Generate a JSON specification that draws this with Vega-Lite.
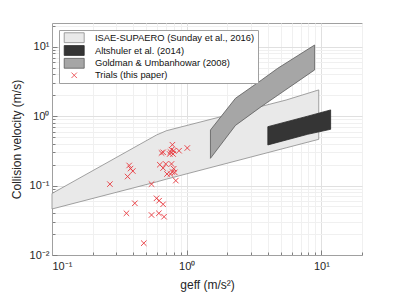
{
  "$schema": "https://vega.github.io/schema/vega-lite/v6.json",
  "width": 310,
  "height": 232,
  "autosize": "none",
  "padding": {"left": 52, "top": 23, "right": 37, "bottom": 44},
  "config": {
    "font": "Liberation Sans",
    "view": {"stroke": "#a0a0a0", "strokeWidth": 1},
    "axis": {
      "labelFont": "Liberation Sans",
      "labelFontSize": 11,
      "labelColor": "#262626",
      "titleFont": "Liberation Sans",
      "titleFontSize": 12,
      "titleFontWeight": "normal",
      "titleColor": "#262626",
      "domainColor": "#a0a0a0",
      "tickColor": "#808080",
      "grid": true,
      "gridColor": {"condition": {"test": "indexof([0.01,0.1,1,10], datum.value) >= 0", "value": "#e0e0e0"}, "value": "#f0f0f0"},
      "tickSize": {"condition": {"test": "indexof([0.01,0.1,1,10], datum.value) >= 0", "value": -5}, "value": -3}
    },
    "legend": {
      "orient": "top-left",
      "offset": 7,
      "title": null,
      "labelFont": "Liberation Sans",
      "labelFontSize": 9.4,
      "labelColor": "#111111",
      "labelLimit": 400,
      "strokeColor": "#a0a0a0",
      "fillColor": "#ffffff",
      "padding": 3,
      "symbolSize": 30,
      "symbolStrokeWidth": 0.8,
      "symbolOffset": 7.5,
      "labelOffset": 16,
      "rowPadding": -1.2
    }
  },
  "datasets": {
    "isae": [
      {"series": "ISAE-SUPAERO (Sunday et al., 2016)", "x": 0.1, "lo": 0.046, "hi": 0.077},
      {"series": "ISAE-SUPAERO (Sunday et al., 2016)", "x": 0.597, "lo": 0.113, "hi": 0.536},
      {"series": "ISAE-SUPAERO (Sunday et al., 2016)", "x": 0.708, "lo": 0.124, "hi": 0.618},
      {"series": "ISAE-SUPAERO (Sunday et al., 2016)", "x": 5.47, "lo": 0.35, "hi": 1.71},
      {"series": "ISAE-SUPAERO (Sunday et al., 2016)", "x": 9.55, "lo": 0.464, "hi": 2.39}
    ],
    "goldman": [
      {"series": "Goldman & Umbanhowar (2008)", "x": 1.5, "lo": 0.247, "hi": 0.632},
      {"series": "Goldman & Umbanhowar (2008)", "x": 2.3, "lo": 0.736, "hi": 1.81},
      {"series": "Goldman & Umbanhowar (2008)", "x": 3.57, "lo": 1.37, "hi": 3.29},
      {"series": "Goldman & Umbanhowar (2008)", "x": 4.74, "lo": 2.0, "hi": 4.9},
      {"series": "Goldman & Umbanhowar (2008)", "x": 8.9, "lo": 4.64, "hi": 10.6}
    ],
    "altshuler": [
      {"series": "Altshuler et al. (2014)", "x": 4.0, "lo": 0.385, "hi": 0.706},
      {"series": "Altshuler et al. (2014)", "x": 7.9, "lo": 0.548, "hi": 1.0},
      {"series": "Altshuler et al. (2014)", "x": 11.7, "lo": 0.647, "hi": 1.23}
    ],
    "trials": [
      {"series": "Trials (this paper)", "x": 0.269, "v": 0.105},
      {"series": "Trials (this paper)", "x": 0.374, "v": 0.195},
      {"series": "Trials (this paper)", "x": 0.383, "v": 0.176},
      {"series": "Trials (this paper)", "x": 0.398, "v": 0.162},
      {"series": "Trials (this paper)", "x": 0.364, "v": 0.135},
      {"series": "Trials (this paper)", "x": 0.412, "v": 0.0556},
      {"series": "Trials (this paper)", "x": 0.357, "v": 0.0399},
      {"series": "Trials (this paper)", "x": 0.597, "v": 0.0656},
      {"series": "Trials (this paper)", "x": 0.624, "v": 0.0606},
      {"series": "Trials (this paper)", "x": 0.668, "v": 0.0538},
      {"series": "Trials (this paper)", "x": 0.548, "v": 0.0377},
      {"series": "Trials (this paper)", "x": 0.621, "v": 0.0399},
      {"series": "Trials (this paper)", "x": 0.679, "v": 0.0356},
      {"series": "Trials (this paper)", "x": 0.48, "v": 0.0148},
      {"series": "Trials (this paper)", "x": 0.548, "v": 0.105},
      {"series": "Trials (this paper)", "x": 0.783, "v": 0.388},
      {"series": "Trials (this paper)", "x": 1.01, "v": 0.348},
      {"series": "Trials (this paper)", "x": 0.877, "v": 0.318},
      {"series": "Trials (this paper)", "x": 0.65, "v": 0.295},
      {"series": "Trials (this paper)", "x": 0.668, "v": 0.302},
      {"series": "Trials (this paper)", "x": 0.757, "v": 0.305},
      {"series": "Trials (this paper)", "x": 0.801, "v": 0.318},
      {"series": "Trials (this paper)", "x": 0.771, "v": 0.329},
      {"series": "Trials (this paper)", "x": 0.748, "v": 0.285},
      {"series": "Trials (this paper)", "x": 0.792, "v": 0.285},
      {"series": "Trials (this paper)", "x": 0.631, "v": 0.2},
      {"series": "Trials (this paper)", "x": 0.699, "v": 0.205},
      {"series": "Trials (this paper)", "x": 0.771, "v": 0.205},
      {"series": "Trials (this paper)", "x": 0.668, "v": 0.179},
      {"series": "Trials (this paper)", "x": 0.801, "v": 0.175},
      {"series": "Trials (this paper)", "x": 0.783, "v": 0.157},
      {"series": "Trials (this paper)", "x": 0.714, "v": 0.147},
      {"series": "Trials (this paper)", "x": 0.757, "v": 0.147},
      {"series": "Trials (this paper)", "x": 0.815, "v": 0.155},
      {"series": "Trials (this paper)", "x": 0.83, "v": 0.118}
    ]
  },
  "encoding": {
    "x": {
      "field": "x",
      "type": "quantitative",
      "scale": {"type": "log", "domain": [0.1, 20], "nice": false},
      "axis": {
        "title": "geff (m/s²)",
        "values": [0.1, 0.2, 0.3, 0.4, 0.5, 0.6, 0.7, 0.8, 0.9, 1, 2, 3, 4, 5, 6, 7, 8, 9, 10, 20],
        "labelExpr": "datum.value === 0.1 ? '10⁻¹' : datum.value === 1 ? '10⁰' : datum.value === 10 ? '10¹' : ''",
        "labelPadding": 10,
        "titlePadding": 8
      }
    }
  },
  "layer": [
    {
      "data": {"name": "isae"},
      "mark": {"type": "area", "strokeWidth": 0.8, "interpolate": "linear"},
      "encoding": {
        "y": {
          "field": "hi",
          "type": "quantitative",
          "scale": {"type": "log", "domain": [0.01, 22], "nice": false},
          "axis": {
            "title": "Collision velocity (m/s)",
            "values": [0.01, 0.02, 0.03, 0.04, 0.05, 0.06, 0.07, 0.08, 0.09, 0.1, 0.2, 0.3, 0.4, 0.5, 0.6, 0.7, 0.8, 0.9, 1, 2, 3, 4, 5, 6, 7, 8, 9, 10, 20],
            "labelExpr": "datum.value === 0.01 ? '10⁻²' : datum.value === 0.1 ? '10⁻¹' : datum.value === 1 ? '10⁰' : datum.value === 10 ? '10¹' : ''",
            "labelPadding": 8,
            "titlePadding": 6
          }
        },
        "y2": {"field": "lo"},
        "fill": {
          "field": "series",
          "type": "nominal",
          "scale": {
            "domain": ["ISAE-SUPAERO (Sunday et al., 2016)", "Altshuler et al. (2014)", "Goldman & Umbanhowar (2008)", "Trials (this paper)"],
            "range": ["#e9e9e9", "#353535", "#a6a6a6", "rgba(0,0,0,0)"]
          },
          "legend": {"symbolSize": 30}
        },
        "stroke": {
          "field": "series",
          "type": "nominal",
          "scale": {
            "domain": ["ISAE-SUPAERO (Sunday et al., 2016)", "Altshuler et al. (2014)", "Goldman & Umbanhowar (2008)", "Trials (this paper)"],
            "range": ["#8a8a8a", "#2a2a2a", "#5a5a5a", "#e8383d"]
          },
          "legend": {"symbolSize": 30}
        }
      }
    },
    {
      "data": {"name": "goldman"},
      "mark": {"type": "area", "strokeWidth": 0.8, "interpolate": "linear"},
      "encoding": {
        "y": {"field": "hi", "type": "quantitative", "scale": {"type": "log", "domain": [0.01, 22], "nice": false}},
        "y2": {"field": "lo"},
        "fill": {"field": "series", "type": "nominal"},
        "stroke": {"field": "series", "type": "nominal"}
      }
    },
    {
      "data": {"name": "altshuler"},
      "mark": {"type": "area", "strokeWidth": 0.8, "interpolate": "linear"},
      "encoding": {
        "y": {"field": "hi", "type": "quantitative", "scale": {"type": "log", "domain": [0.01, 22], "nice": false}},
        "y2": {"field": "lo"},
        "fill": {"field": "series", "type": "nominal"},
        "stroke": {"field": "series", "type": "nominal"}
      }
    },
    {
      "data": {"name": "trials"},
      "mark": {"type": "point", "filled": false, "size": 30, "strokeWidth": 0.9, "opacity": 1},
      "encoding": {
        "y": {"field": "v", "type": "quantitative", "scale": {"type": "log", "domain": [0.01, 22], "nice": false}},
        "stroke": {"field": "series", "type": "nominal"},
        "shape": {
          "field": "series",
          "type": "nominal",
          "scale": {
            "domain": ["ISAE-SUPAERO (Sunday et al., 2016)", "Altshuler et al. (2014)", "Goldman & Umbanhowar (2008)", "Trials (this paper)"],
            "range": ["M-3.65,-1.8H3.65V1.8H-3.65Z", "M-3.65,-1.8H3.65V1.8H-3.65Z", "M-3.65,-1.8H3.65V1.8H-3.65Z", "M-1,-1L1,1M-1,1L1,-1"]
          },
          "legend": {"symbolSize": 30}
        }
      }
    }
  ]
}
